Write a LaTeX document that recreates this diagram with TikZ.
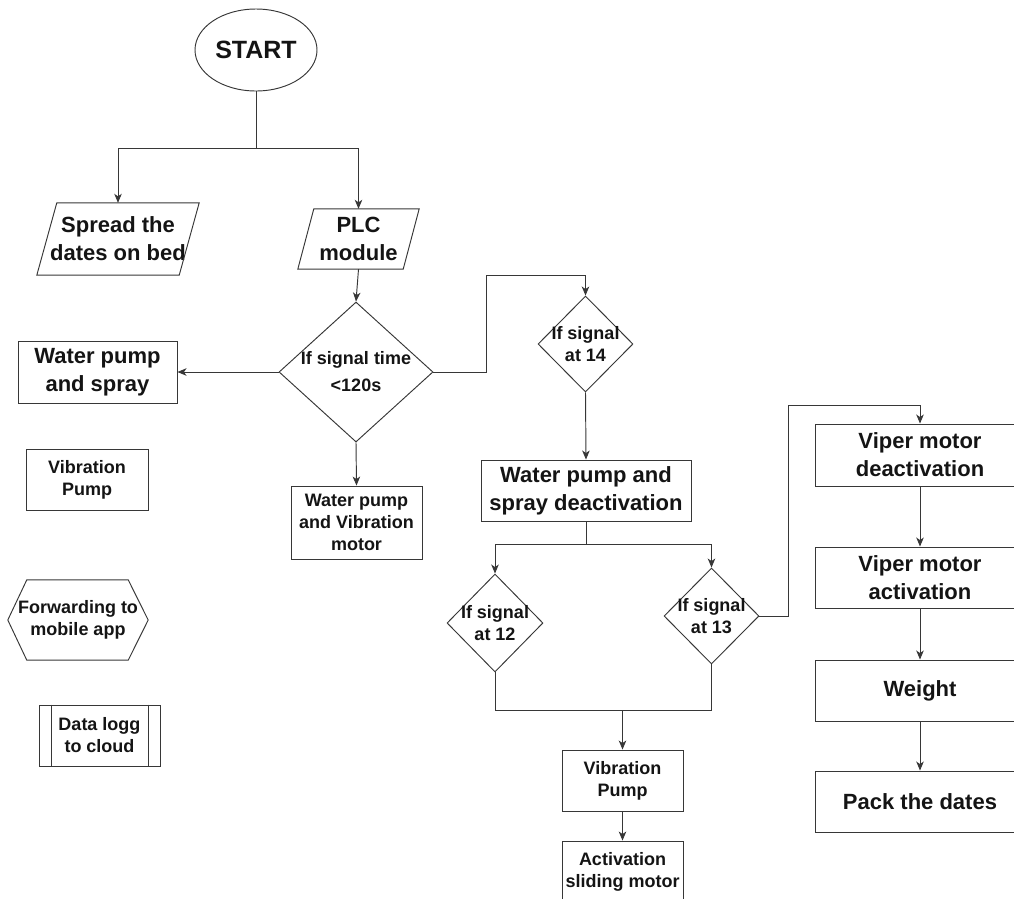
\documentclass[tikz,border=0pt]{standalone}
\usepackage{fontspec}
\setmainfont{Liberation Sans}
\usetikzlibrary{shapes.geometric,arrows.meta,calc}
\definecolor{lc}{RGB}{55,55,55}
\definecolor{tc}{RGB}{20,20,20}
\newcommand\fStart{\fontsize{25}{30}\selectfont\bfseries}
\newcommand\fBig{\fontsize{22}{28}\selectfont\bfseries}
\newcommand\fSmall{\fontsize{18}{22}\selectfont\bfseries}
\newcommand\fDia{\fontsize{18}{27}\selectfont\bfseries}
\begin{document}
\begin{tikzpicture}[x=1pt,y=-1pt,
  ln/.style={draw=lc, line width=0.95pt},
  arr/.style={ln, -{Stealth[length=9pt,width=7.5pt,inset=2.5pt]}},
  txt/.style={rectangle, inner sep=0pt, align=center, text=tc},
  box/.style={txt, ln},
  dia/.style={diamond, ln, inner sep=0pt},
  dlbl/.style={font=\fSmall, align=center, text=tc, inner sep=0pt}]
\useasboundingbox (0,0) rectangle (1014,898);
\clip (0,0) rectangle (1014,898);

% start
\node[ellipse, ln, minimum width=122pt, minimum height=82pt, inner sep=0pt, font=\fStart, text=tc] (start) at (256,50) {START};

% parallelograms
\node[txt, font=\fBig, minimum width=162pt, minimum height=72pt] (spread) at (118,239) {Spread the\\dates on bed};
\draw[ln] ($(spread.north west)+(20,0)$) -- (spread.north east) -- ($(spread.south east)+(-20,0)$) -- (spread.south west) -- cycle;
\node[txt, font=\fBig, minimum width=121pt, minimum height=60pt] (plc) at (358.5,239) {PLC\\module};
\draw[ln] ($(plc.north west)+(16,0)$) -- (plc.north east) -- ($(plc.south east)+(-16,0)$) -- (plc.south west) -- cycle;

% first decision
\node[dia, minimum width=154pt, minimum height=140pt, label={[dlbl, font=\fDia]center:If signal time\\<120s}] (d1) at (356,372) {};
\node[box, font=\fBig, minimum width=159pt, minimum height=62pt] (wps) at (97.5,372) {Water pump\\and spray};
\node[box, font=\fSmall, minimum width=131pt, minimum height=73pt] (wpvm) at (356.5,522.5) {Water pump\\and Vibration\\motor};

% left standalone shapes
\node[box, font=\fSmall, minimum width=122pt, minimum height=61pt] (vpl) at (87,479.5) {Vibration\\Pump};
\node[txt, font=\fSmall, minimum width=140pt, minimum height=80pt] (hex) at (78,620) {Forwarding to\\mobile app};
\draw[ln] (hex.west) -- ($(hex.north west)+(19,0)$) -- ($(hex.north east)+(-20,0)$) -- (hex.east) -- ($(hex.south east)+(-20,0)$) -- ($(hex.south west)+(19,0)$) -- cycle;
\node[box, font=\fSmall, minimum width=121pt, minimum height=61pt] (dlog) at (99.5,735.5) {Data logg\\to cloud};
\draw[ln] ($(dlog.north west)+(13,0)$) -- ($(dlog.south west)+(13,0)$);
\draw[ln] ($(dlog.north east)+(-12,0)$) -- ($(dlog.south east)+(-12,0)$);

% middle column
\node[dia, minimum width=95pt, minimum height=96pt, label={[dlbl]center:If signal\\at 14}] (d14) at (585.5,344) {};
\node[box, font=\fBig, minimum width=210pt, minimum height=61pt] (wpsd) at (586,490.5) {Water pump and\\spray deactivation};
\node[dia, minimum width=96pt, minimum height=98pt, label={[dlbl]center:If signal\\at 12}] (d12) at (495,623) {};
\node[dia, minimum width=95pt, minimum height=96pt, label={[dlbl]center:If signal\\at 13}] (d13) at (711.5,616) {};
\node[box, font=\fSmall, minimum width=121pt, minimum height=61pt] (vpm) at (622.5,780.5) {Vibration\\Pump};
\node[box, font=\fSmall, minimum width=121pt, minimum height=61pt] (act) at (622.5,871.5) {Activation\\sliding motor};

% right column
\node[box, font=\fBig, minimum width=210pt, minimum height=62pt] (vd) at (920,455) {Viper motor\\deactivation};
\node[box, font=\fBig, minimum width=210pt, minimum height=61pt] (va) at (920,577.5) {Viper motor\\activation};
\node[box, font=\fBig, minimum width=210pt, minimum height=61pt] (wt) at (920,690.5) {Weight};
\node[box, font=\fBig, minimum width=210pt, minimum height=61pt] (pk) at (920,801.5) {Pack the dates};

% junction coordinates
\coordinate (j1) at (256,148);
\coordinate (c1) at (486,275);
\coordinate (c2) at (586,544);
\coordinate (c3) at (622.5,710);
\coordinate (c4) at (788,405);

% connectors
\draw[ln] (start.south) -- (j1);
\draw[arr] (j1) -| (spread.north);
\draw[arr] (j1) -| (plc.north);
\draw[arr] (plc.south) -- (d1.north);
\draw[arr] (d1.west) -- (wps.east);
\draw[arr] (d1.south) -- (wpvm.north);
\draw[arr] (d1.east) -| (c1) -| (d14.north);
\draw[arr] (d14.south) -- (wpsd.north);
\draw[ln] (wpsd.south) -- (c2);
\draw[arr] (c2) -| (d12.north);
\draw[arr] (c2) -| (d13.north);
\draw[ln] (d12.south) |- (c3);
\draw[arr] (d13.south) |- (c3) -- (vpm.north);
\draw[arr] (vpm.south) -- (act.north);
\draw[arr] (d13.east) -| (c4) -| (vd.north);
\draw[arr] (vd.south) -- (va.north);
\draw[arr] (va.south) -- (wt.north);
\draw[arr] (wt.south) -- (pk.north);
\end{tikzpicture}
\end{document}
